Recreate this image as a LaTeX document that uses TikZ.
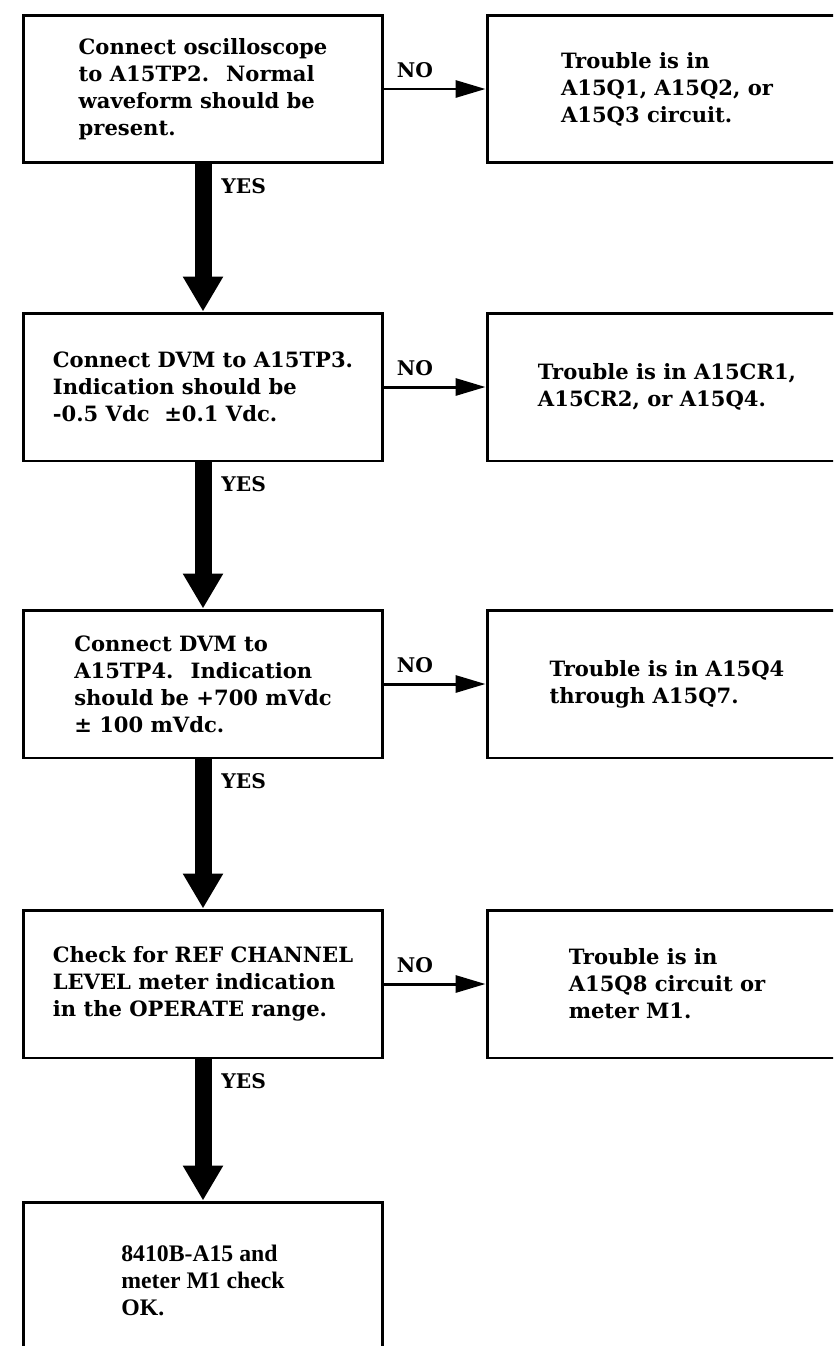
\documentclass[tikz,border=0pt]{standalone}
\usepackage{fontspec}
\setmainfont{DejaVu Serif}
\newfontfamily\okfont{Liberation Serif}
\usetikzlibrary{arrows.meta, positioning}
\tikzset{
  every picture/.style={line width=1.7pt},
  box/.style={draw, rectangle, align=left, inner sep=0pt, minimum width=7.2cm, minimum height=2.96cm,
              font=\fontsize{12}{15.4}\selectfont\bfseries},
  arrow/.style={-{Triangle[length=0.6cm, width=0.34cm]}, line width=1.7pt},
  yesarrow/.style={-{Triangle[length=0.7cm, width=0.76cm]}, line width=0.34cm},
  lab/.style={font=\fontsize{11.5}{13}\selectfont\bfseries, inner sep=0pt},
}

\begin{document}
\begin{tikzpicture}[x=0.02cm, y=-0.02cm,
    chk/.style={box},
    trb/.style={box}]
  \useasboundingbox (0,0) rectangle (833,1346);
  \clip (0,0) rectangle (833,1346);

  % ---- checks, top to bottom
  \node[chk] (chk1) at (203,89) {Connect oscilloscope\\to A15TP2.~ Normal\\waveform should be\\present.};
  \node[chk] (chk2) at (203,387) {Connect DVM to A15TP3.\\Indication should be\\-0.5 Vdc~ ±0.1 Vdc.};
  \node[chk] (chk3) at (203,684) {Connect DVM to\\A15TP4.~ Indication\\should be +700 mVdc\\± 100 mVdc.};
  \node[chk] (chk4) at (203,984) {Check for REF CHANNEL\\LEVEL meter indication\\in the OPERATE range.};
  \node[chk, minimum height=3.12cm, font=\fontsize{13.5}{15.4}\selectfont\okfont\bfseries] (chk5) at (203,1280)
    {8410B-A15 and\\meter M1 check\\OK.};

  % ---- trouble boxes (cut by the right edge)
  \node[trb] (trb1) at (667,89) {Trouble is in\\A15Q1, A15Q2, or\\A15Q3 circuit.};
  \node[trb] (trb2) at (667,387) {Trouble is in A15CR1,\\A15CR2, or A15Q4.};
  \node[trb] (trb3) at (667,684) {Trouble is in A15Q4\\through A15Q7.};
  \node[trb] (trb4) at (667,984) {Trouble is in\\A15Q8 circuit or\\meter M1.};

  \foreach \i in {1,...,4} {
    \draw[arrow] (chk\i.east) -- (trb\i.west);
    \node[lab, above right=0.2cm and 0.22cm of chk\i.east] (no\i) {NO};
  }
  \foreach \i/\j in {1/2, 2/3, 3/4, 4/5} {
    \draw[yesarrow] (chk\i.south) -- (chk\j.north);
    \node[lab, below right=0.26cm and 0.34cm of chk\i.south] (yes\i) {YES};
  }
\end{tikzpicture}
\end{document}
